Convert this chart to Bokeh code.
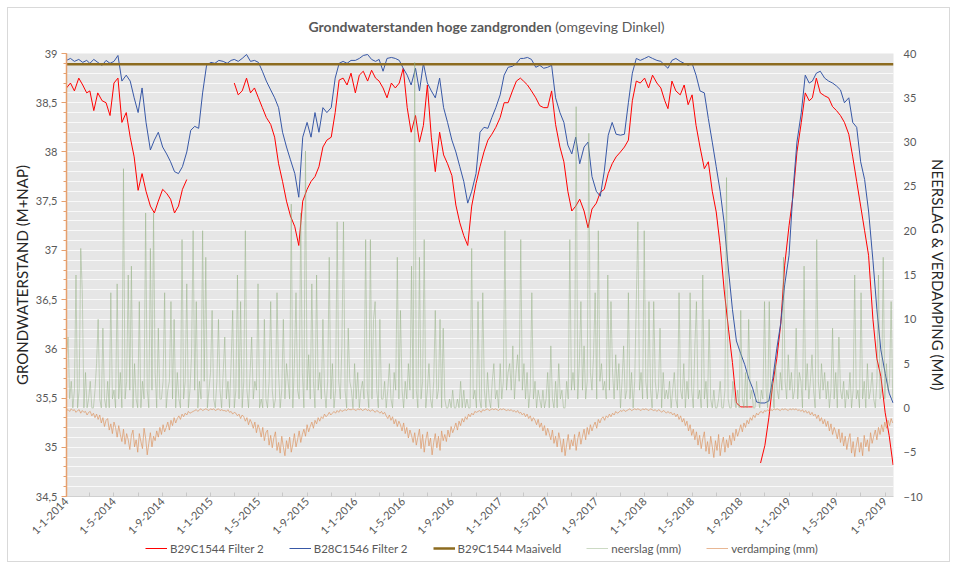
import math
import pandas as pd
from bokeh.plotting import figure
from bokeh.layouts import column
from bokeh.models import (Range1d, LinearAxis, SingleIntervalTicker, FixedTicker,
                          CustomJSTickFormatter, Legend, LegendItem, Div)
from bokeh.embed import file_html
from bokeh.resources import INLINE

NaN = float("nan")

# ---------------- data ----------------
# groundwater levels (m+NAP), sampled on the 1st, 11th and 21st of each month
red_2014 = [38.65, 38.70, 38.62, 38.75, 38.68, 38.60, 38.62, 38.42, 38.60, 38.52, 38.50, 38.37,
            38.70, 38.75, 38.30, 38.40, 38.15, 37.95, 37.61, 37.78, 37.60, 37.45, 37.38, 37.50,
            37.62, 37.58, 37.52, 37.38, 37.45, 37.62, 37.72, NaN, NaN, NaN, NaN, NaN]
red_2015 = [NaN, NaN, NaN, NaN, NaN, NaN, 38.70, 38.58, 38.62, 38.75, 38.60, 38.65,
            38.55, 38.45, 38.35, 38.28, 38.15, 37.88, 37.70, 37.50, 37.35, 37.24, 37.05, 37.50,
            37.62, 37.70, 37.75, 37.85, 38.05, 38.12, 38.15, 38.40, 38.73, 38.75, 38.68, 38.80]
red_2016 = [38.60, 38.78, 38.82, 38.72, 38.83, 38.75, 38.72, 38.65, 38.55, 38.70, 38.65, 38.70,
            38.85, 38.45, 38.20, 38.37, 38.10, 38.27, 38.68, 38.15, 37.80, 38.20, 37.97, 37.88,
            37.76, 37.46, 37.28, 37.15, 37.05, 37.45, 37.68, 37.85, 38.00, 38.12, 38.18, 38.25]
red_2017 = [38.35, 38.50, 38.50, 38.62, 38.72, 38.75, 38.72, 38.68, 38.62, 38.55, 38.47, 38.45,
            38.45, 38.62, 38.28, 38.05, 37.90, 37.60, 37.40, 37.45, 37.52, 37.40, 37.23, 37.42,
            37.48, 37.59, 37.62, 37.78, 37.88, 37.95, 38.00, 38.05, 38.12, 38.52, 38.72, 38.70]
red_2018 = [38.75, 38.65, 38.78, 38.70, 38.65, 38.52, 38.44, 38.72, 38.62, 38.58, 38.68, 38.48,
            38.58, 38.27, 38.05, 37.83, 37.90, 37.60, 37.39, 37.05, 36.60, 36.20, 35.86, 35.45,
            35.41, 35.41, 35.41, 35.41, NaN, 34.84, 35.02, 35.30, 35.65, 35.90, 36.25, 36.85]
red_2019 = [37.25, 37.55, 38.00, 38.30, 38.60, 38.52, 38.55, 38.75, 38.60, 38.57, 38.55, 38.46,
            38.42, 38.37, 38.30, 38.18, 37.95, 37.70, 37.45, 37.20, 36.95, 36.30, 35.90, 35.72,
            35.35, 35.12, 34.82]

blue_2014 = [38.93, 38.95, 38.92, 38.94, 38.91, 38.93, 38.90, 38.94, 38.91, 38.88, 38.93, 38.90,
             38.92, 38.98, 38.72, 38.78, 38.72, 38.55, 38.40, 38.65, 38.30, 38.02, 38.12, 38.20,
             38.05, 37.98, 37.90, 37.80, 37.78, 37.85, 38.00, 38.22, 38.26, 38.24, 38.60, 38.88]
blue_2015 = [38.91, 38.90, 38.93, 38.92, 38.90, 38.93, 38.94, 38.92, 38.95, 38.99, 38.92, 38.93,
             38.91, 38.82, 38.72, 38.63, 38.55, 38.45, 38.20, 38.05, 37.92, 37.78, 37.54, 38.15,
             38.30, 38.15, 38.40, 38.20, 38.45, 38.40, 38.45, 38.75, 38.90, 38.92, 38.90, 38.93]
blue_2016 = [38.93, 38.95, 38.98, 38.99, 38.94, 38.92, 38.94, 38.82, 38.95, 38.96, 38.95, 38.93,
             38.85, 38.78, 38.68, 38.85, 38.62, 38.90, 38.70, 38.62, 38.55, 38.75, 38.45, 38.30,
             38.12, 38.00, 37.85, 37.70, 37.48, 37.60, 37.78, 38.20, 38.25, 38.24, 38.35, 38.45]
blue_2017 = [38.58, 38.78, 38.86, 38.87, 38.90, 38.95, 38.95, 38.96, 38.94, 38.86, 38.88, 38.85,
             38.86, 38.88, 38.55, 38.40, 38.30, 38.07, 37.98, 38.15, 37.88, 38.05, 38.10, 37.75,
             37.60, 37.55, 37.80, 38.17, 38.30, 38.18, 38.17, 38.18, 38.50, 38.80, 38.95, 38.93]
blue_2018 = [38.95, 38.97, 38.95, 38.93, 38.92, 38.88, 38.85, 38.93, 38.95, 38.92, 38.90, 38.88,
             38.90, 38.78, 38.62, 38.60, 38.34, 38.10, 37.85, 37.60, 37.28, 36.80, 36.40, 36.08,
             35.95, 35.84, 35.70, 35.60, 35.46, 35.45, 35.45, 35.47, 35.70, 36.00, 36.26, 36.65]
blue_2019 = [36.95, 37.60, 38.10, 38.40, 38.78, 38.70, 38.72, 38.80, 38.82, 38.75, 38.72, 38.70,
             38.67, 38.63, 38.50, 38.55, 38.30, 38.25, 37.90, 37.72, 37.40, 36.90, 36.40, 35.99,
             35.75, 35.55, 35.45]

maaiveld_dates = ["2014-01-01", "2019-09-22"]
maaiveld = [38.89, 38.89]

# precipitation (mm), every 4 days from 1-1-2014
neerslag = [
    6, 8, 1, 3, 0, 2, 15, 0, 2, 18, 13, 0, 4, 0, 1, 3, 0, 0, 2, 5,
    10, 1, 0, 9, 1, 0, 3, 0, 13, 1, 2, 0, 14, 1, 4, 0, 27, 1, 3, 15,
    2, 16, 0, 5, 1, 0, 12, 0, 3, 1, 22, 2, 0, 18, 2, 22, 4, 0, 9, 1,
    1, 3, 13, 0, 2, 3, 12, 1, 10, 0, 4, 1, 0, 19, 1, 3, 14, 0, 2, 6,
    20, 2, 12, 0, 3, 1, 20, 3, 17, 0, 2, 4, 11, 1, 0, 3, 10, 2, 0, 4,
    8, 1, 3, 0, 5, 11, 0, 2, 15, 1, 12, 0, 3, 20, 2, 0, 4, 8, 1, 3,
    2, 14, 0, 1, 0, 10, 1, 0, 3, 12, 2, 0, 1, 13, 4, 0, 2, 10, 1, 5,
    3, 1, 23, 0, 5, 13, 2, 1, 22, 4, 0, 29, 2, 6, 1, 14, 3, 0, 15, 2,
    4, 1, 10, 2, 0, 3, 17, 1, 5, 0, 2, 21, 3, 1, 7, 21, 2, 0, 9, 3,
    2, 0, 5, 1, 4, 0, 2, 3, 1, 19, 2, 0, 19, 1, 10, 12, 2, 0, 10, 1,
    1, 3, 0, 2, 5, 1, 0, 4, 2, 17, 1, 11, 2, 0, 3, 1, 5, 2, 16, 1,
    39, 2, 0, 17, 1, 3, 19, 0, 2, 5, 1, 0, 3, 11, 1, 2, 10, 0, 9, 1,
    0, 0, 1, 0, 2, 0, 0, 1, 0, 3, 0, 2, 0, 1, 0, 0, 18, 1, 2, 0,
    12, 1, 0, 13, 2, 0, 4, 1, 0, 3, 5, 1, 2, 0, 5, 1, 3, 20, 2, 4,
    5, 2, 7, 1, 4, 6, 3, 19, 2, 5, 1, 4, 0, 2, 13, 1, 3, 0, 2, 1,
    0, 2, 0, 1, 4, 0, 7, 1, 0, 3, 0, 5, 1, 2, 0, 0, 3, 1, 19, 2,
    4, 2, 34, 1, 5, 12, 2, 7, 1, 3, 31, 4, 2, 6, 13, 1, 20, 3, 5, 2,
    3, 1, 15, 2, 12, 4, 1, 6, 2, 5, 0, 3, 7, 1, 2, 13, 1, 4, 0, 3,
    12, 21, 2, 4, 1, 20, 3, 1, 12, 2, 0, 12, 3, 1, 2, 9, 0, 4, 1, 2,
    1, 3, 0, 2, 4, 1, 0, 13, 2, 1, 5, 0, 3, 1, 13, 2, 0, 7, 12, 1,
    2, 0, 15, 1, 3, 0, 10, 1, 0, 2, 0, 0, 1, 3, 0, 0, 2, 26, 1, 0,
    0, 3, 1, 0, 2, 0, 11, 1, 0, 4, 0, 10, 1, 2, 0, 0, 3, 1, 0, 2,
    1, 12, 2, 0, 12, 1, 3, 0, 5, 2, 1, 4, 2, 17, 3, 1, 6, 2, 4, 1,
    2, 9, 1, 4, 3, 0, 16, 2, 5, 1, 3, 6, 2, 0, 19, 3, 1, 5, 2, 4,
    1, 3, 0, 2, 9, 1, 4, 0, 8, 2, 1, 3, 0, 2, 1, 4, 0, 2, 15, 1,
    2, 0, 13, 1, 3, 0, 5, 1, 2, 4, 1, 0, 3, 15, 1, 2, 17, 1, 5, 2,
    3, 12, 1,
]

# evaporation (mm, negative), every 4 days from 1-1-2014
verdamping = [
    -0.3, -0.2, -0.4, -0.1, -0.3, -0.2, -0.5, -0.3, -0.2, -0.6, -0.3, -0.5, -0.4, -0.8, -0.5, -0.4, -0.9, -0.6, -1.1, -0.7,
    -1.3, -0.8, -1.7, -1.1, -2.1, -1.4, -1.2, -2.5, -1.8, -2.9, -1.6, -2.2, -3.3, -2.0, -3.0, -3.8, -2.4, -4.1, -2.9, -3.6,
    -4.7, -3.1, -2.5, -4.4, -3.6, -5.0, -2.9, -3.8, -4.6, -2.3, -3.4, -5.3, -4.0, -2.8, -4.4, -3.2, -3.7, -2.6, -3.3, -2.2,
    -3.0, -1.9, -2.7, -2.2, -1.6, -2.5, -1.4, -2.0, -1.1, -1.7, -1.2, -0.9, -1.3, -0.7, -1.0, -0.6, -0.8, -0.4, -0.6, -0.5,
    -0.4, -0.3, -0.2, -0.4, -0.2, -0.1, -0.3, -0.2, -0.1, -0.2, -0.3, -0.1, -0.2, -0.1, -0.3, -0.2, -0.1, -0.3, -0.2, -0.3,
    -0.3, -0.4, -0.2, -0.5, -0.4, -0.7, -0.5, -0.6, -0.9, -0.7, -1.2, -0.8, -1.0, -1.5, -1.1, -1.9, -1.3, -1.7, -2.3, -1.6,
    -2.8, -1.9, -2.4, -3.3, -2.2, -3.7, -2.8, -2.5, -4.2, -3.1, -4.5, -3.4, -2.7, -4.8, -3.9, -5.1, -3.2, -4.4, -5.4, -3.7,
    -4.6, -3.3, -5.0, -4.1, -2.9, -4.4, -3.6, -2.6, -3.9, -3.0, -2.4, -3.2, -1.9, -2.7, -2.1, -1.6, -2.3, -1.4, -1.8, -1.1,
    -1.5, -1.0, -1.2, -0.7, -1.0, -0.8, -0.5, -0.8, -0.6, -0.4, -0.6, -0.3, -0.5, -0.2, -0.4, -0.3, -0.2, -0.3, -0.1, -0.2,
    -0.2, -0.1, -0.2, -0.3, -0.1, -0.2, -0.1, -0.3, -0.2, -0.1, -0.3, -0.2, -0.4, -0.2, -0.3, -0.5, -0.3, -0.4, -0.6, -0.4,
    -0.7, -0.5, -0.9, -1.2, -0.8, -1.4, -1.0, -1.8, -1.3, -2.1, -1.5, -1.9, -2.6, -1.7, -2.9, -2.2, -3.4, -2.5, -3.1, -3.9,
    -2.8, -4.2, -3.3, -2.4, -4.6, -3.0, -5.0, -3.6, -2.7, -4.3, -3.4, -5.3, -3.9, -2.9, -4.5, -3.2, -4.8, -2.6, -3.7, -3.0,
    -3.8, -2.5, -3.3, -2.1, -2.8, -2.3, -1.7, -2.5, -1.5, -2.0, -1.2, -1.6, -1.0, -1.3, -0.7, -1.0, -0.6, -0.8, -0.4, -0.5,
    -0.4, -0.3, -0.5, -0.2, -0.3, -0.2, -0.1, -0.3, -0.2, -0.1, -0.2, -0.1, -0.2, -0.3, -0.1, -0.2, -0.1, -0.2, -0.3, -0.2,
    -0.3, -0.2, -0.4, -0.3, -0.5, -0.3, -0.6, -0.5, -0.8, -0.6, -1.0, -0.7, -1.2, -0.9, -1.5, -1.1, -1.4, -1.9, -1.3, -2.2,
    -1.7, -2.6, -2.0, -3.1, -2.3, -2.9, -3.6, -2.5, -4.0, -3.2, -4.4, -2.8, -3.7, -5.0, -3.5, -5.4, -4.1, -3.0, -4.7, -3.6,
    -4.3, -3.0, -4.8, -3.5, -2.7, -4.1, -3.2, -2.4, -3.6, -2.2, -3.0, -1.9, -2.6, -2.0, -1.6, -2.3, -1.3, -1.7, -1.2, -1.0,
    -1.4, -0.9, -1.1, -0.7, -1.0, -0.6, -0.8, -0.4, -0.6, -0.5, -0.3, -0.4, -0.2, -0.4, -0.3, -0.2, -0.1, -0.3, -0.2, -0.1,
    -0.2, -0.1, -0.2, -0.3, -0.1, -0.2, -0.1, -0.2, -0.3, -0.1, -0.2, -0.3, -0.2, -0.4, -0.2, -0.3, -0.5, -0.3, -0.4, -0.6,
    -0.4, -0.6, -0.5, -0.8, -0.6, -1.0, -0.7, -1.3, -0.9, -1.6, -1.2, -2.0, -1.5, -2.6, -1.9, -3.1, -2.4, -3.6, -2.7, -4.2,
    -3.1, -4.6, -3.5, -2.7, -4.9, -3.8, -5.2, -3.2, -4.4, -5.6, -3.7, -4.8, -3.0, -5.4, -4.1, -3.3, -5.0, -3.6, -4.5, -3.1,
    -4.2, -2.8, -3.7, -2.4, -3.2, -2.6, -1.9, -2.7, -1.7, -2.2, -1.4, -1.8, -1.1, -1.4, -0.8, -1.1, -0.6, -0.8, -0.5, -0.4,
    -0.6, -0.3, -0.4, -0.2, -0.4, -0.2, -0.3, -0.1, -0.2, -0.1, -0.2, -0.3, -0.1, -0.2, -0.1, -0.2, -0.3, -0.1, -0.2, -0.1,
    -0.2, -0.1, -0.3, -0.2, -0.4, -0.2, -0.5, -0.3, -0.6, -0.4, -0.8, -0.5, -0.9, -0.7, -1.2, -0.8, -1.5, -1.1, -1.8, -1.3,
    -2.1, -1.5, -2.6, -1.8, -3.0, -2.2, -2.7, -3.5, -2.4, -3.9, -2.8, -4.3, -3.2, -4.7, -3.6, -2.9, -5.1, -3.8, -5.5, -4.2,
    -3.3, -5.0, -3.9, -5.4, -3.1, -4.4, -3.6, -4.9, -2.8, -4.0, -3.2, -2.5, -3.6, -2.2, -3.0, -1.9, -2.7, -1.6, -2.3, -1.4,
    -2.0, -1.2, -1.7,
]

x_tick_dates = ["2014-01-01", "2014-05-01", "2014-09-01", "2015-01-01", "2015-05-01", "2015-09-01",
                "2016-01-01", "2016-05-01", "2016-09-01", "2017-01-01", "2017-05-01", "2017-09-01",
                "2018-01-01", "2018-05-01", "2018-09-01", "2019-01-01", "2019-05-01", "2019-09-01"]
x_minor_dates = ["2014-03-01", "2014-07-01", "2014-11-01", "2015-03-01", "2015-07-01", "2015-11-01",
                 "2016-03-01", "2016-07-01", "2016-11-01", "2017-03-01", "2017-07-01", "2017-11-01",
                 "2018-03-01", "2018-07-01", "2018-11-01", "2019-03-01", "2019-07-01"]

series_labels = ["B29C1544 Filter 2", "B28C1546 Filter 2", "B29C1544 Maaiveld", "neerslag (mm)", "verdamping (mm)"]

# ---------------- build ----------------
red = red_2014 + red_2015 + red_2016 + red_2017 + red_2018 + red_2019
blue = blue_2014 + blue_2015 + blue_2016 + blue_2017 + blue_2018 + blue_2019
grid_dates = [pd.Timestamp(y, m, d) for y in range(2014, 2020) for m in range(1, 13) for d in (1, 11, 21)][:len(red)]
rain_dates = pd.date_range("2014-01-01", periods=len(neerslag), freq="4D")
evap_dates = pd.date_range("2014-01-01", periods=len(verdamping), freq="4D")


def ms(s):
    return pd.Timestamp(s).value // 10**6


FONT = "Lato"
GREY = "#595959"
STYLES = [
    dict(line_color="#ff0000", line_width=1),
    dict(line_color="#3858a6", line_width=1),
    dict(line_color="#8c6b1f", line_width=2.5),
    dict(line_color="#8fad7d", line_alpha=0.5, line_width=0.9),
    dict(line_color="#dc935f", line_alpha=0.75, line_width=0.9),
]

p = figure(width=941, height=495, x_axis_type="datetime",
           x_range=Range1d(ms(maaiveld_dates[0]), ms(maaiveld_dates[1])),
           y_range=Range1d(34.5, 39), output_backend="svg", toolbar_location=None,
           min_border_left=58, min_border_right=56, min_border_top=7, min_border_bottom=44)
p.extra_y_ranges = {"rain": Range1d(-10, 40)}
p.background_fill_color = "#e6e6e6"
p.border_fill_color = "white"
p.outline_line_color = None

p.xgrid.visible = False
p.ygrid.ticker = SingleIntervalTicker(interval=0.1)
p.ygrid.grid_line_color = "white"
p.ygrid.grid_line_alpha = 0.75

xa = p.xaxis[0]
xa.ticker = FixedTicker(ticks=[ms(d) for d in x_tick_dates], minor_ticks=[ms(d) for d in x_minor_dates])
xa.formatter = CustomJSTickFormatter(code="""
const d = new Date(tick);
return d.getUTCDate() + '-' + (d.getUTCMonth() + 1) + '-' + d.getUTCFullYear();
""")
xa.major_label_orientation = math.pi / 4
xa.major_label_standoff = 3
xa.major_label_text_font = FONT
xa.major_label_text_font_size = "11px"
xa.major_label_text_color = GREY
xa.axis_line_color = "#d0d0d0"
xa.major_tick_line_color = "#c8c8c8"
xa.minor_tick_line_color = "#c8c8c8"
xa.major_tick_in = 4
xa.major_tick_out = 0
xa.minor_tick_in = 4
xa.minor_tick_out = 0

ya = p.yaxis[0]
ya.ticker = SingleIntervalTicker(interval=0.5, num_minor_ticks=5)
ya.formatter = CustomJSTickFormatter(code="return (Math.round(tick*10)/10).toString().replace('.', ',');")
ya.axis_label = "GRONDWATERSTAND (M+NAP)"
ya.axis_label_text_font = FONT
ya.axis_label_text_font_size = "15px"
ya.axis_label_text_font_style = "normal"
ya.axis_label_text_color = "#262626"
ya.axis_label_standoff = 2
ya.major_label_standoff = 4
ya.major_label_text_font = FONT
ya.major_label_text_font_size = "11px"
ya.major_label_text_color = GREY
ya.axis_line_color = "#e6a06e"
ya.axis_line_width = 1.5
ya.major_tick_line_color = "#e6a06e"
ya.minor_tick_line_color = "#e6a06e"
ya.major_tick_in = 0
ya.major_tick_out = 5
ya.minor_tick_in = 0
ya.minor_tick_out = 3

ra = LinearAxis(y_range_name="rain", ticker=SingleIntervalTicker(interval=5, num_minor_ticks=0),
                axis_label="NEERSLAG & VERDAMPING (MM)")
ra.axis_label_text_font = FONT
ra.axis_label_text_font_size = "15px"
ra.axis_label_text_font_style = "normal"
ra.axis_label_text_color = "#262626"
ra.axis_label_standoff = 3
ra.major_label_text_font = FONT
ra.major_label_text_font_size = "11px"
ra.major_label_text_color = GREY
ra.major_label_standoff = 10
ra.axis_line_color = None
ra.major_tick_line_color = None
ra.minor_tick_line_color = None
ra.major_tick_in = 0
ra.major_tick_out = 0
ra.minor_tick_in = 0
ra.minor_tick_out = 0
p.add_layout(ra, "right")

p.line(grid_dates, red, **STYLES[0])
p.line(grid_dates, blue, **STYLES[1])
p.line(pd.to_datetime(maaiveld_dates), maaiveld, **STYLES[2])
p.line(rain_dates, neerslag, y_range_name="rain", **STYLES[3])
p.line(evap_dates, verdamping, y_range_name="rain", **STYLES[4])

# legend strip below the chart (its own small figure so nothing is clipped);
# its renderers carry only NaN values, so they draw nothing but their legend swatch
lg = figure(width=941, height=20, output_backend="svg", toolbar_location=None,
            x_range=Range1d(0, 1), y_range=Range1d(0, 1),
            x_axis_location=None, y_axis_location=None, min_border=0)
lg.grid.visible = False
lg.outline_line_color = None
lg.background_fill_color = "white"
lg.border_fill_color = "white"
items = []
for lab, st in zip(series_labels, STYLES):
    r = lg.line([0, 1], [NaN, NaN], **st)
    items.append(LegendItem(label=lab, renderers=[r]))
legend = Legend(items=items, orientation="horizontal", location=(79, 6))
legend.padding = 0
legend.margin = 0
legend.spacing = 25
legend.label_standoff = 3
legend.glyph_width = 22
legend.glyph_height = 14
legend.label_height = 14
legend.label_text_font = FONT
legend.label_text_font_size = "11.5px"
legend.label_text_color = GREY
legend.border_line_color = None
legend.background_fill_alpha = 0
lg.add_layout(legend, "center")

title_div = Div(
    text='<div style="box-sizing:border-box;width:941px;padding-left:16px;text-align:center;'
         'font-family:Lato;font-size:14px;color:#595959;line-height:38px;">'
         '<b>Grondwaterstanden hoge zandgronden</b> (omgeving Dinkel)</div>',
    width=941, height=38, margin=(0, 0, 0, 0))

layout = column(title_div, p, lg, margin=(8, 8, 8, 8), styles={"outline": "1px solid #d9d9d9"})

open("out.html", "w").write(file_html(layout, INLINE))
